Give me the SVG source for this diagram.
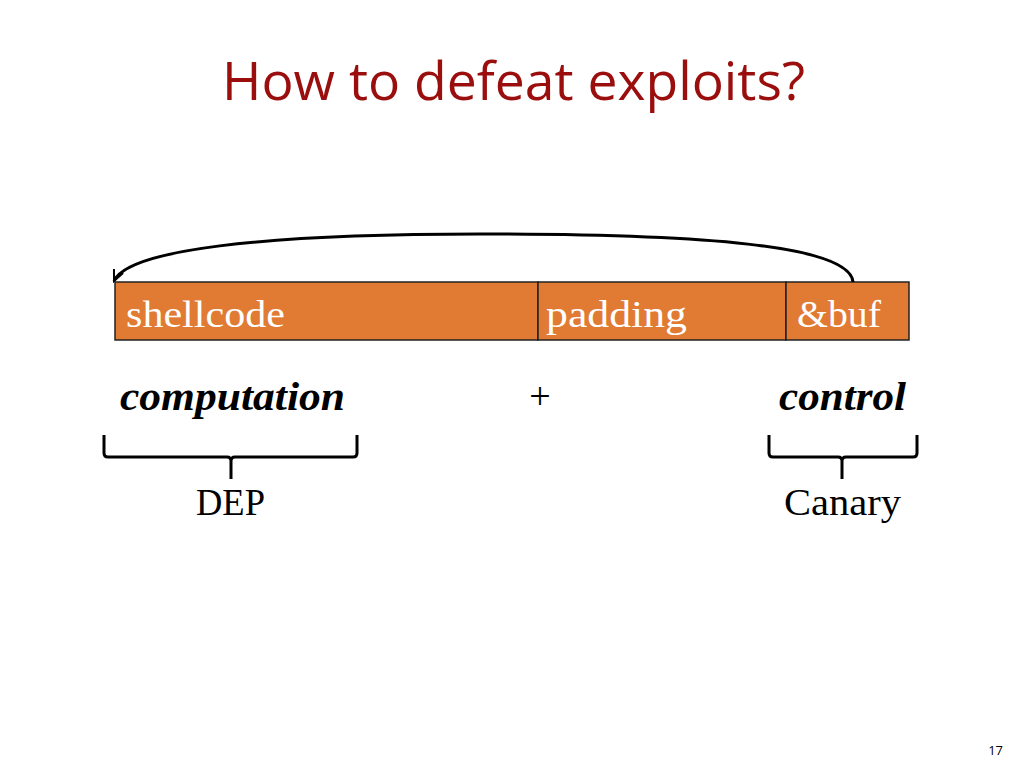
<svg xmlns="http://www.w3.org/2000/svg" width="1024" height="768" viewBox="0 0 1024 768">
<style>
.t{font-family:"Liberation Serif","DejaVu Serif",serif;font-size:38px;fill:#000}
.cell{fill:#E17A33;stroke:#222;stroke-width:1.5}
.ct{font-family:"Liberation Serif","DejaVu Serif",serif;font-size:38px;fill:#fff}
.bi{font-weight:bold;font-style:italic;font-size:39px}
.br{fill:none;stroke:#000;stroke-width:3;stroke-linejoin:round}
</style>
<defs>
<marker id="ah" markerWidth="14" markerHeight="12" refX="12" refY="6" orient="auto" markerUnits="userSpaceOnUse">
<path d="M1,1 L12,6 L1,11" fill="none" stroke="#000" stroke-width="2"/>
</marker>
</defs>
<rect width="1024" height="768" fill="#fff"/>
<text x="222" y="100" font-family="Open Sans, Liberation Sans, sans-serif" font-size="53" fill="#9A0E0E" textLength="583" lengthAdjust="spacingAndGlyphs">How to defeat exploits?</text>
<g id="buffer">
<g id="shellcode"><rect class="cell" x="115" y="282" width="423" height="58"/><text class="ct" x="126" y="327" textLength="159" lengthAdjust="spacingAndGlyphs">shellcode</text></g>
<g id="padding"><rect class="cell" x="538" y="282" width="248" height="58"/><text class="ct" x="546" y="327" textLength="141" lengthAdjust="spacingAndGlyphs">padding</text></g>
<g id="buf"><rect class="cell" x="786" y="282" width="123" height="58"/><text class="ct" x="797" y="327" textLength="84" lengthAdjust="spacingAndGlyphs">&amp;buf</text></g>
</g>
<g id="connectors">
<path d="M853,282 C850,245 700,234 480,234 C260,234 128,250 114,281" fill="none" stroke="#000" stroke-width="3" marker-end="url(#ah)"/>
</g>
<g id="computation"><text class="t bi" x="120" y="410" textLength="225" lengthAdjust="spacingAndGlyphs">computation</text></g>
<g id="plus"><text class="t" x="540" y="409" text-anchor="middle">+</text></g>
<g id="control"><text class="t bi" x="779" y="410" textLength="127" lengthAdjust="spacingAndGlyphs">control</text></g>
<g id="brace-left"><path class="br" d="M104,435 L104,453 Q104,457 108,457 L227,457 Q231,457 231,461 L231,479 M231,461 Q231,457 235,457 L353,457 Q357,457 357,453 L357,435"/></g>
<g id="brace-right"><path class="br" d="M769,435 L769,453 Q769,457 773,457 L838,457 Q842,457 842,461 L842,479 M842,461 Q842,457 846,457 L913,457 Q917,457 917,453 L917,435"/></g>
<g id="dep"><text class="t" x="196" y="515" textLength="69" lengthAdjust="spacingAndGlyphs">DEP</text></g>
<g id="canary"><text class="t" x="784" y="515" textLength="117" lengthAdjust="spacingAndGlyphs">Canary</text></g>
<text x="1003" y="755" text-anchor="end" font-family="Open Sans, Liberation Sans, sans-serif" font-size="13" fill="#000">17</text>
</svg>
